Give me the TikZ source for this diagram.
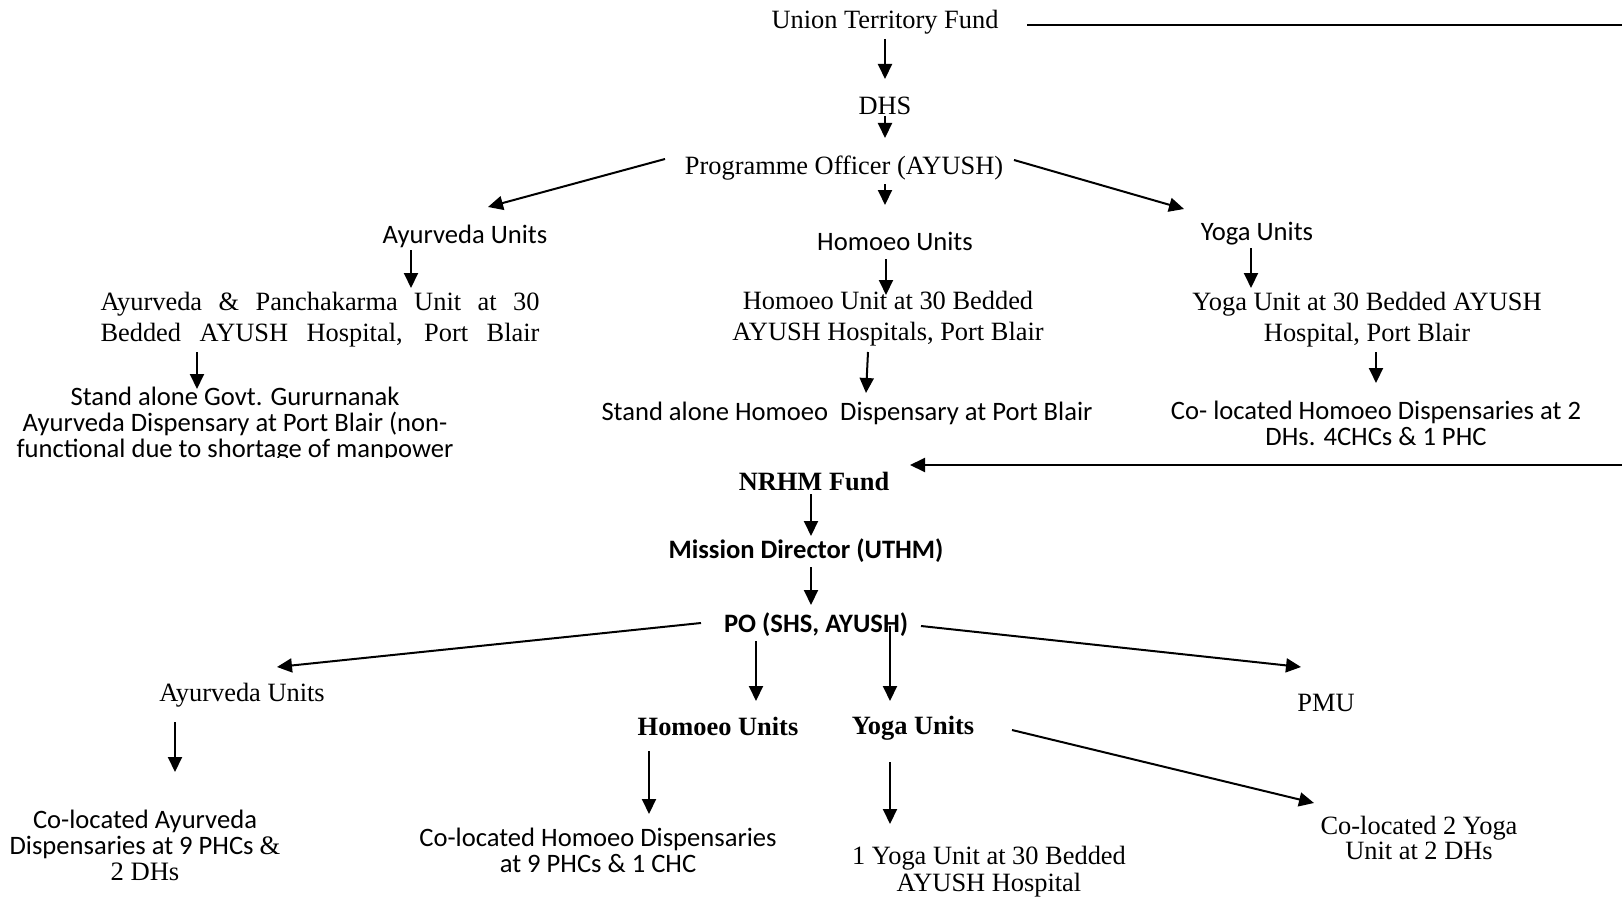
\documentclass[tikz,border=0pt]{standalone}
\usepackage{fontspec}
\setmainfont{Liberation Serif}
\newfontfamily\calib{Carlito}
\usetikzlibrary{arrows.meta}
\tikzset{
  ser/.style={inner sep=0pt, font=\fontsize{13.2}{15.5}\selectfont, align=center},
  serb/.style={inner sep=0pt, font=\fontsize{13.2}{15.5}\selectfont\bfseries, align=center},
  san/.style={inner sep=0pt, font=\calib\fontsize{13.3}{13}\selectfont, align=center},
  sanb/.style={inner sep=0pt, font=\calib\fontsize{13.3}{13}\selectfont\bfseries, align=center},
  arr/.style={line width=1pt, -{Triangle[length=7.5pt,width=7pt]}},
  ln/.style={line width=1pt}
}
\begin{document}
\begin{tikzpicture}[x=0.5pt,y=-0.5pt]
\useasboundingbox[fill=white] (0,0) rectangle (1622,899);
% upper part
\node[ser] (utf) at (885,22) {Union Territory Fund};
\coordinate (utend) at (1622,25);
\node[ser] (dhs) at (885,106) {DHS};
\node[ser] (po1) at (844,168) {Programme Officer (AYUSH)};
\node[san] (ayu1) at (465,236) {Ayurveda Units};
\node[san] (hom1) at (895,241) {Homoeo Units};
\node[san] (yog1) at (1257,234) {Yoga Units};
\node[ser] (apu) at (320,320) {\makebox[219.5pt][s]{Ayurveda \& Panchakarma Unit at 30}\\\makebox[219.5pt][s]{Bedded AYUSH Hospital, Port Blair}};
\node[ser] (hu30) at (888,319) {Homoeo Unit at 30 Bedded\\AYUSH Hospitals, Port Blair};
\node[ser] (yu30) at (1367,320) {Yoga Unit at 30 Bedded AYUSH\\Hospital, Port Blair};
\begin{scope}
\clip (0,340) rectangle (620,457);
\node[san] (sag) at (235,425) {Stand alone Govt. Gururnanak\\Ayurveda Dispensary at Port Blair (non-\\functional due to shortage of manpower};
\end{scope}
\node[san] (sah) at (847,413) {Stand alone Homoeo\ \ Dispensary at Port Blair};
\node[san] (chd) at (1376,423) {Co- located Homoeo Dispensaries at 2\\DHs. 4CHCs \& 1 PHC};
% lower part
\coordinate (nrin) at (1622,465);
\node[serb] (nrhm) at (814,481) {NRHM Fund};
\node[sanb] (md) at (806,551) {Mission Director (UTHM)};
\node[sanb] (po2) at (816,625) {PO (SHS, AYUSH)};
\node[ser] (ayu2) at (242,695) {Ayurveda Units};
\node[ser] (pmu) at (1326,703) {PMU};
\node[serb] (hom2) at (718,726) {Homoeo Units};
\node[serb] (yog2) at (913,728) {Yoga Units};
\node[san] (cad) at (145,845) {Co-located Ayurveda\\Dispensaries at 9 PHCs {\rmfamily\&}\\{\rmfamily 2 DHs}};
\node[san] (chd2) at (598,850) {Co-located Homoeo Dispensaries\\at 9 PHCs \& 1 CHC};
\node[ser,font=\fontsize{13.2}{13.5}\selectfont] (yu1) at (989,872) {1 Yoga Unit at 30 Bedded\\AYUSH Hospital};
\node[ser,font=\fontsize{13.2}{12.8}\selectfont] (cy2) at (1419,838) {Co-located 2 Yoga\\Unit at 2 DHs};
% connectors
\draw[ln] ([shift={(142,3)}]utf.center) -- (utend);
\draw[arr] ([shift={(0,17)}]utf.center) -- ([shift={(0,-27)}]dhs.center);
\draw[arr] ([shift={(0,10)}]dhs.center) -- ([shift={(41,-30)}]po1.center);
\draw[arr] ([shift={(41,16)}]po1.center) -- ([shift={(-10,-36)}]hom1.center);
\draw[arr] ([shift={(-179,-9)}]po1.center) -- ([shift={(23,-29)}]ayu1.center);
\draw[arr] ([shift={(170,-8)}]po1.center) -- ([shift={(-73,-25)}]yog1.center);
\draw[arr] ([shift={(-54,14)}]ayu1.center) -- ([shift={(91,-32)}]apu.center);
\draw[arr] ([shift={(-9,18)}]hom1.center) -- ([shift={(-2,-24)}]hu30.center);
\draw[arr] ([shift={(-6,14)}]yog1.center) -- ([shift={(-116,-32)}]yu30.center);
\draw[arr] ([shift={(-123,32)}]apu.center) -- ([shift={(-38,-36)}]sag.center);
\draw[arr] ([shift={(-20,33)}]hu30.center) -- ([shift={(19,-20)}]sah.center);
\draw[arr] ([shift={(9,32)}]yu30.center) -- ([shift={(0,-40)}]chd.center);
\draw[arr] (nrin) -- ([shift={(96,-16)}]nrhm.center);
\draw[arr] ([shift={(-3,13)}]nrhm.center) -- ([shift={(5,-15)}]md.center);
\draw[arr] ([shift={(5,16)}]md.center) -- ([shift={(-5,-20)}]po2.center);
\draw[arr] ([shift={(-115,-2)}]po2.center) -- ([shift={(35,-28)}]ayu2.center);
\draw[arr] ([shift={(105,1)}]po2.center) -- ([shift={(-25,-36)}]pmu.center);
\draw[arr] ([shift={(-60,16)}]po2.center) -- ([shift={(38,-25)}]hom2.center);
\draw[arr] ([shift={(74,1)}]po2.center) -- ([shift={(-23,-27)}]yog2.center);
\draw[arr] ([shift={(-67,27)}]ayu2.center) -- ([shift={(30,-73)}]cad.center);
\draw[arr] ([shift={(-69,25)}]hom2.center) -- ([shift={(51,-36)}]chd2.center);
\draw[arr] ([shift={(-23,34)}]yog2.center) -- ([shift={(-99,-48)}]yu1.center);
\draw[arr] ([shift={(99,2)}]yog2.center) -- ([shift={(-105,-35)}]cy2.center);
\end{tikzpicture}
\end{document}
